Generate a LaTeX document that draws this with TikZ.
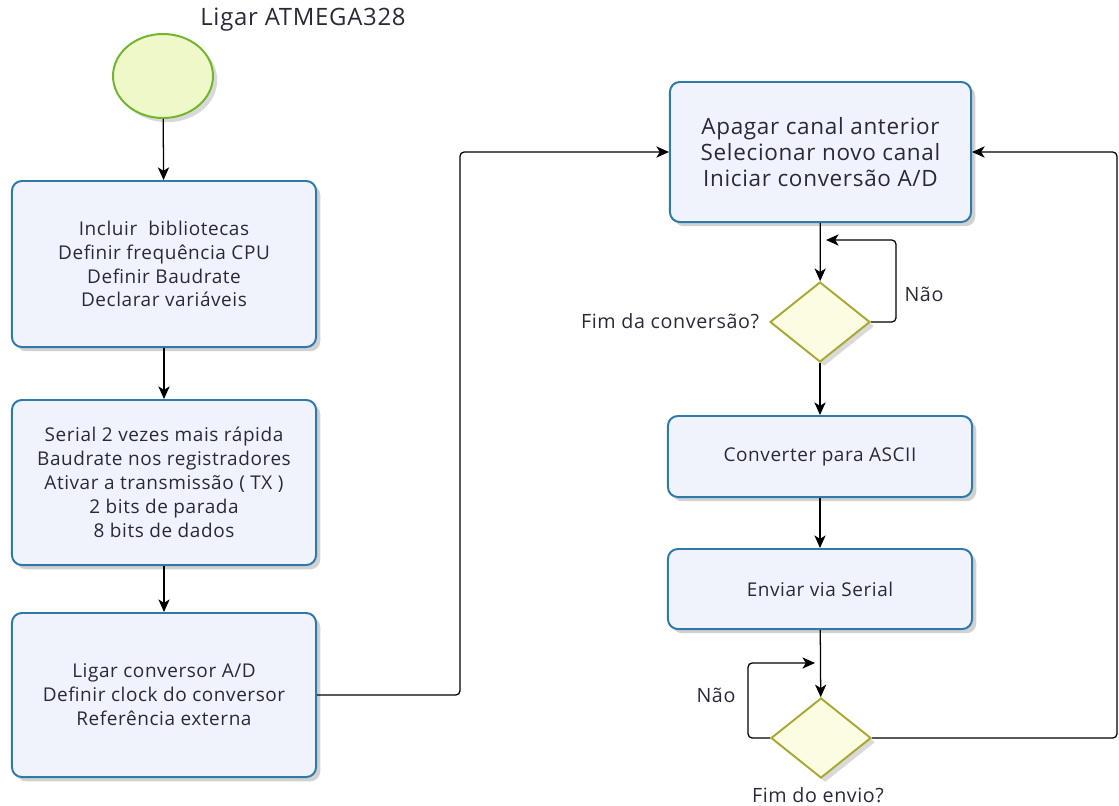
\documentclass[tikz,border=0pt]{standalone}
\usepackage{fontspec}
\setmainfont{Open Sans}[LetterSpace=3]
\usetikzlibrary{shapes.geometric,arrows.meta,shadows}
\definecolor{boxborder}{HTML}{2F7AA8}
\definecolor{boxfill}{HTML}{F0F3FC}
\definecolor{dborder}{HTML}{A9A935}
\definecolor{dfill}{HTML}{FCFCE2}
\definecolor{cborder}{HTML}{72B52E}
\definecolor{cfill}{HTML}{EEF8C8}
\definecolor{txt}{HTML}{2B2838}
\tikzset{
  procbox/.style={draw=boxborder, line width=1.4pt, fill=boxfill, rounded corners=7pt,
    align=center, text=txt, font=\fontsize{13.5}{17}\selectfont, minimum width=7.6cm,
    drop shadow={shadow xshift=3pt, shadow yshift=-3pt, opacity=0.18, fill=black}},
  decis/.style={diamond, draw=dborder, line width=1.4pt, fill=dfill, inner sep=0pt,
    minimum width=2.5cm, minimum height=2cm,
    drop shadow={shadow xshift=3pt, shadow yshift=-3pt, opacity=0.15, fill=black}},
  startc/.style={ellipse, draw=cborder, line width=1.4pt, fill=cfill, inner sep=0pt,
    minimum width=2.5cm, minimum height=2.1cm,
    drop shadow={shadow xshift=3pt, shadow yshift=-3pt, opacity=0.15, fill=black}},
  conn/.style={draw=black, line width=0.9pt, rounded corners=3pt, -{Stealth[length=9pt, width=8pt, inset=2.5pt]}},
  lbl/.style={text=txt, font=\fontsize{14}{16}\selectfont},
}
\begin{document}
\begin{tikzpicture}[x=0.025cm, y=-0.025cm]
\useasboundingbox (0,0) rectangle (1119,805);

\node[text=txt, font=\fontsize{17}{20}\selectfont] (title) at (303,20) {Ligar ATMEGA328};
\node[startc] (start) at (163,76) {};

\node[procbox, minimum height=4.15cm] (b1) at (164,264)
  {Incluir\ \ bibliotecas\\Definir frequência CPU\\Definir Baudrate\\Declarar variáveis};
\node[procbox, minimum height=4.125cm] (b2) at (164,482.5)
  {Serial 2 vezes mais rápida\\Baudrate nos registradores\\Ativar a transmissão ( TX )\\2 bits de parada\\8 bits de dados};
\node[procbox, minimum height=4.1cm] (b3) at (164,695)
  {Ligar conversor A/D\\Definir clock do conversor\\Referência externa};

\node[procbox, minimum width=7.525cm, minimum height=3.5cm, font=\fontsize{16}{18.5}\selectfont] (b4) at (820.5,152)
  {Apagar canal anterior\\Selecionar novo canal\\Iniciar conversão A/D};
\node[decis] (d1) at (820,322) {};
\node[procbox, minimum height=2.025cm] (b5) at (820,456.5) {Converter para ASCII};
\node[procbox, minimum height=2cm] (b6) at (820,589) {Enviar via Serial};
\node[decis] (d2) at (821,738) {};

\node[lbl, anchor=east] (l1) at (764,321) {Fim da conversão?};
\node[lbl] (n1) at (924,294) {Não};
\node[lbl] (n2) at (716,695) {Não};
\node[lbl] (l2) at (818,795) {Fim do envio?};

\coordinate (r1) at (826,240);
\coordinate (r2) at (815,663);

\draw[conn] (start) -- (b1);
\draw[conn] (b1) -- (b2);
\draw[conn] (b2) -- (b3);
\draw[conn] (b3.east) -- (460,695) -- (460,152) -- (b4.west);
\draw[conn] (b4) -- (d1);
\draw[conn] (d1.east) -- (896,322) -- (896,240) -- (r1);
\draw[conn] (d1) -- (b5);
\draw[conn] (b5) -- (b6);
\draw[conn] (b6) -- (d2);
\draw[conn] (d2.west) -- (748,738) -- (748,663) -- (r2);
\draw[conn] (d2.east) -- (1117,738) -- (1117,152) -- (b4.east);
\end{tikzpicture}
\end{document}
